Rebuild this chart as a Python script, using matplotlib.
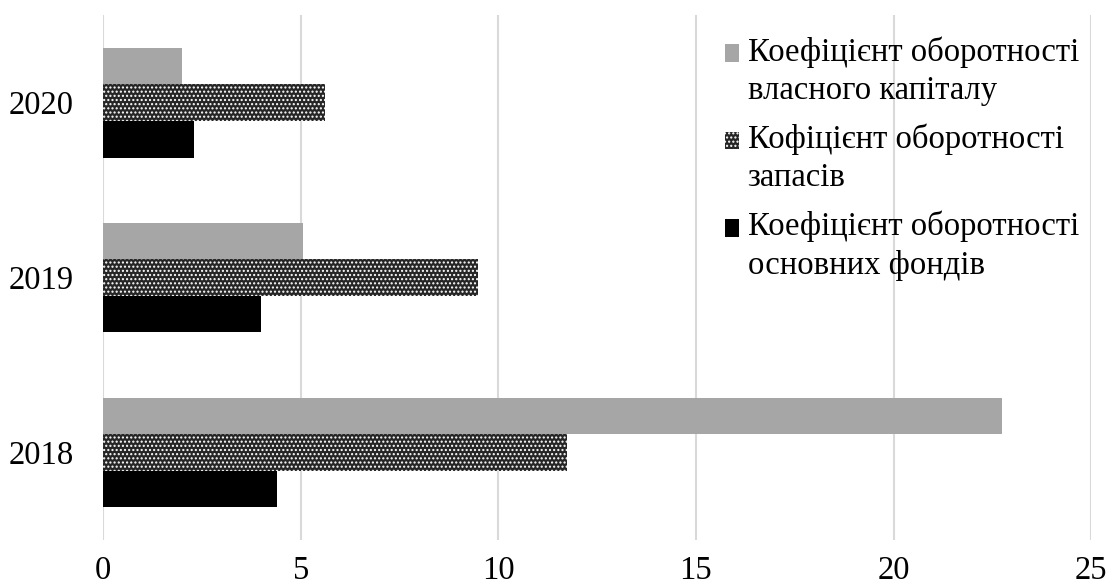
import matplotlib.pyplot as plt
import matplotlib.patches as mpatches
from matplotlib.container import BarContainer
from matplotlib.legend_handler import HandlerPatch, update_from_first_child
import numpy as np

# turnover ratios by year
years = ['2018', '2019', '2020']
equity_turnover = [22.75, 5.05, 2.0]
inventory_turnover = [11.75, 9.5, 5.62]
fixed_assets_turnover = [4.4, 4.0, 2.3]
labels = ['Коефіцієнт оборотності\nвласного капіталу',
          'Кофіцієнт оборотності\nзапасів',
          'Коефіцієнт оборотності\nосновних фондів']
xticks = [0, 5, 10, 15, 20, 25]

plt.rcParams['font.family'] = ['Liberation Serif', 'DejaVu Serif']
plt.rcParams['hatch.linewidth'] = 1.0

fig = plt.figure(figsize=(11.1, 5.87), dpi=100)
ax = fig.add_axes([0.0928, 0.080, 0.8902, 0.894])

y = np.arange(len(years))
h = 0.209
ax.barh(y + h, equity_turnover, height=h, color='#a6a6a6', label=labels[0], zorder=3)
ax.barh(y, inventory_turnover, height=h, color='#262626', edgecolor='white',
        linewidth=0, hatch='....', label=labels[1], zorder=3)
ax.barh(y - h, fixed_assets_turnover, height=h, color='black', label=labels[2], zorder=3)

ax.set_xlim(0, 25)
ax.set_ylim(-0.5, 2.5)
ax.set_yticks(y)
ax.set_yticklabels(years)
ax.set_xticks(xticks)
ax.tick_params(axis='both', length=0, labelsize=23.5)
ax.tick_params(axis='y', pad=21)
ax.tick_params(axis='x', pad=11)
for s in ax.spines.values():
    s.set_visible(False)
ax.grid(axis='x', color='#d9d9d9', linewidth=1.5, zorder=0)


# legend square sits next to the first line of each two-line label
def top_square(legend, orig_handle, xdescent, ydescent, width, height, fontsize):
    return mpatches.Rectangle((-xdescent, -ydescent + 13), width, height)


leg = ax.legend(loc='upper left', bbox_to_anchor=(0.606, 1.004), frameon=False,
                fontsize=23.5, handlelength=0.45, handleheight=0.45,
                handletextpad=0.25, labelspacing=0.52, borderaxespad=0.3,
                handler_map={BarContainer: HandlerPatch(patch_func=top_square,
                                                        update_func=update_from_first_child)})
for t in leg.get_texts():
    t.set_linespacing(1.35)

fig.savefig('out.png', dpi=100)
